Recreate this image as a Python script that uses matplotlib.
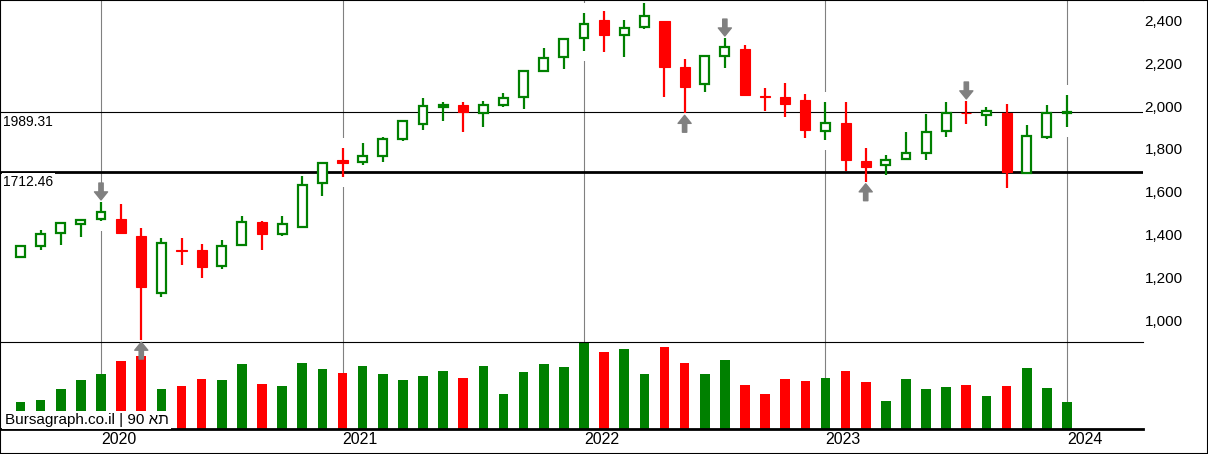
import numpy as np
import pandas as pd
import matplotlib
matplotlib.use('Agg')
import matplotlib.pyplot as plt
from matplotlib.transforms import ScaledTranslation, offset_copy

# monthly candles, Sep 2019 .. Jan 2024
start = '2019-09-01'
opens = [1312, 1365, 1425, 1467, 1489, 1491, 1411, 1143, 1344, 1346, 1271, 1368, 1475, 1419, 1452, 1659,
         1766, 1756, 1785, 1863, 1935, 2013, 2022, 1985, 2022, 2059, 2184, 2246,
         2335, 2419, 2349, 2386, 2418, 2201, 2121, 2251, 2285, 2064, 2059, 2047,
         1900, 1939, 1762, 1742, 1770, 1798, 1900, 1988, 1975, 1986, 1707, 1875, 1984]
highs = [1365, 1438, 1477, 1490, 1570, 1561, 1447, 1401, 1401, 1374, 1393, 1505, 1483, 1505, 1693, 1757,
         1822, 1844, 1872, 1953, 2056, 2037, 2037, 2042, 2079, 2186, 2288, 2335,
         2452, 2463, 2421, 2499, 2418, 2238, 2254, 2336, 2304, 2103, 2126, 2075,
         2037, 2037, 1822, 1790, 1897, 1981, 2037, 2042, 2014, 2028, 1930, 2023, 2070]
lows = [1307, 1344, 1371, 1408, 1483, 1424, 925, 1125, 1276, 1216, 1256, 1368, 1346, 1413, 1447, 1600,
        1688, 1744, 1758, 1857, 1908, 1950, 1899, 1922, 2013, 2006, 2181, 2190,
        2277, 2272, 2249, 2377, 2062, 1985, 2086, 2198, 2071, 1997, 1969, 1871,
        1861, 1715, 1665, 1698, 1770, 1768, 1875, 1935, 1925, 1637, 1702, 1866, 1922]
closes = [1365, 1422, 1470, 1487, 1522, 1424, 1171, 1377, 1340, 1268, 1364, 1478, 1419, 1469, 1651, 1754,
          1751, 1784, 1863, 1950, 2019, 2022, 1992, 2025, 2057, 2184, 2244, 2333,
          2402, 2352, 2385, 2438, 2202, 2109, 2254, 2294, 2071, 2060, 2029, 1908,
          1941, 1766, 1735, 1768, 1800, 1897, 1985, 1984, 1994, 1712.46, 1879, 1986, 1989.31]
volumes = [26.7, 28.3, 39.3, 48.3, 54.7, 67.7, 72.7, 39.3, 42.3, 49.3, 48.3, 64.7, 44.7, 42.3, 65.3, 59.3,
           55.3, 62.3, 54.7, 48.3, 52.3, 57.3, 50.3, 62.3, 34.3, 56.3, 64.3, 61.3,
           86.3, 76.3, 79.3, 54.7, 81.3, 65.3, 54.7, 68.3, 43.3, 34.3, 49.3, 47.3,
           50.3, 57.3, 46.3, 27.3, 49.3, 39.3, 41.3, 43.3, 32.3, 42.3, 60.3, 40.3, 26.3]

peak_marks = [4, 35, 47]     # gray arrows pointing down
trough_marks = [6, 33, 42]   # gray arrows pointing up
levels = [1989.31, 1712.46]
price_ticks = [1000, 1200, 1400, 1600, 1800, 2000, 2200, 2400]
watermark = 'Bursagraph.co.il | 90 \u05d0\u05ea'

GREEN = '#008000'
RED = '#ff0000'
GRAY = '#808080'

o = np.array(opens, float)
h = np.array(highs, float)
l = np.array(lows, float)
c = np.array(closes, float)
x = np.arange(len(o))
months = pd.date_range(start, periods=len(o), freq='MS')
up = c >= o
cols = np.where(up, GREEN, RED)
year_idx = x[months.month == 1]

plt.rcParams['font.family'] = ['Liberation Sans', 'DejaVu Sans']

fig = plt.figure(figsize=(12.08, 4.54), dpi=100)
ax = fig.add_axes([0, 0.2467, 0.9462, 0.7533])
axv = fig.add_axes([0, 0.0551, 0.9462, 0.1916])
ax.set_zorder(2)
axv.patch.set_visible(False)

for a in (ax, axv):
    a.set_xlim(-1.02, 55.78)
    a.set_xticks([])
    for i in year_idx:
        a.axvline(i, color=GRAY, lw=0.8, zorder=1)
ax.set_ylim(916, 2514)
axv.set_ylim(0, 86.3)

# white gap in the year lines around the candles
for i in year_idx:
    ax.vlines(i, l[i] - 47, h[i] + 47, color='white', lw=4, zorder=1.5)

ax.axhline(levels[0], color='black', lw=0.8, zorder=1.8)
ax.axhline(levels[1], color='black', lw=2, zorder=1.8)

ax.vlines(x, l, h, colors=cols, lw=1.6, zorder=2)
ax.bar(x[up], c[up] - o[up], bottom=o[up], width=0.44, facecolor='white',
       edgecolor=GREEN, lw=1.6, zorder=3)
ax.bar(x[~up], o[~up] - c[~up], bottom=c[~up], width=0.5, color=RED,
       edgecolor=RED, lw=0.8, zorder=3)

axv.bar(x, volumes, width=0.48, color=cols, zorder=2)

arrow = dict(arrowstyle='simple,head_length=0.58,head_width=0.94,tail_width=0.31',
             color=GRAY, mutation_scale=10, shrinkA=0, shrinkB=1.5)
for i in peak_marks:
    ax.annotate('', xy=(i, h[i]), xytext=(0, 19), textcoords='offset pixels', arrowprops=arrow)
for i in trough_marks:
    ax.annotate('', xy=(i, l[i]), xytext=(0, -19), textcoords='offset pixels', arrowprops=arrow)

# level labels
lab_tr = offset_copy(ax.get_yaxis_transform(), fig=fig, x=3, y=-3, units='dots')
for v in levels:
    ax.text(0, v, f'{v:.2f}', transform=lab_tr, ha='left', va='top', fontsize=10,
            bbox=dict(facecolor='white', edgecolor='none', pad=1), zorder=5)

# price scale on the right
ax.yaxis.tick_right()
ax.set_yticks(price_ticks)
ax.set_yticklabels([f'{v:,}' for v in price_ticks])
ax.tick_params(axis='y', length=0, pad=1, labelsize=11)
shift = ScaledTranslation(0, 2.5 / 100, fig.dpi_scale_trans)
for t in ax.get_yticklabels():
    t.set_transform(t.get_transform() + shift)
    t.set_verticalalignment('center')
axv.set_yticks([])

# year labels
yr_tr = axv.get_xaxis_transform()
for i in year_idx:
    axv.text(i, -0.126, str(months[i].year), transform=yr_tr, ha='left', va='center',
             fontsize=11.5, clip_on=False)

axv.text(0.004, 0.02, watermark, transform=axv.transAxes, ha='left', va='bottom', fontsize=11,
         bbox=dict(facecolor='white', edgecolor='none', pad=1.5), zorder=5)

ax.spines['right'].set_visible(False)
ax.spines['bottom'].set_linewidth(0.8)
for s in ('top', 'left', 'right'):
    axv.spines[s].set_visible(False)
axv.spines['bottom'].set_linewidth(2)

fig.add_artist(plt.Rectangle((0, 0), 1, 1, transform=fig.transFigure, fill=False,
                             edgecolor='black', lw=1.5))

fig.savefig('out.png', dpi=100)
